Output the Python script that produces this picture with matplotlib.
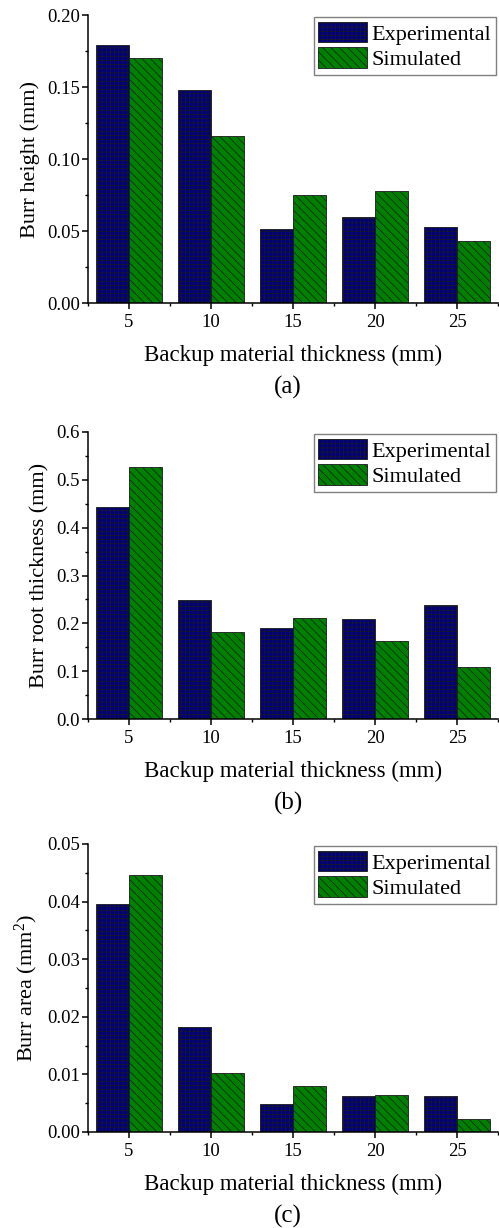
import numpy as np
import matplotlib
matplotlib.use('Agg')
import matplotlib.pyplot as plt
from matplotlib.ticker import MultipleLocator, FormatStrFormatter

# 字体：Times 风格
plt.rcParams['font.family'] = ['Liberation Serif', 'DejaVu Serif']
plt.rcParams['mathtext.fontset'] = 'custom'
plt.rcParams['mathtext.rm'] = 'Liberation Serif'
plt.rcParams['mathtext.it'] = 'Liberation Serif:italic'
plt.rcParams['hatch.linewidth'] = 0.5

# 背衬材料厚度 (mm)
thickness = [5, 10, 15, 20, 25]

# (a) 毛刺高度 (mm)
height_exp = [0.179, 0.148, 0.0515, 0.060, 0.0528]
height_sim = [0.170, 0.116, 0.075, 0.0778, 0.043]

# (b) 毛刺根部厚度 (mm)
root_exp = [0.444, 0.249, 0.191, 0.210, 0.238]
root_sim = [0.526, 0.181, 0.212, 0.164, 0.108]

# (c) 毛刺面积 (mm^2)
area_exp = [0.0395, 0.0183, 0.0049, 0.0063, 0.0063]
area_sim = [0.0446, 0.0103, 0.0079, 0.0064, 0.0023]

W, H = 499, 1228
fig = plt.figure(figsize=(W / 100, H / 100), dpi=100)


def px_axes(left, top, right, bottom):
    """按像素位置添加坐标轴"""
    return fig.add_axes([left / W, 1 - bottom / H, (right - left) / W, (bottom - top) / H])


def draw_panel(ax, exp, sim, ylabel, ymax, ystep, fmt):
    x = np.array(thickness, dtype=float)
    ax.bar(x - 1, exp, width=2, color='#000080', edgecolor='#1a1a1a',
           linewidth=0.6, hatch='++++', label='Experimental')
    ax.bar(x + 1, sim, width=2, color='#008000', edgecolor='#1a1a1a',
           linewidth=0.6, hatch='\\\\\\\\', label='Simulated')
    ax.set_xlim(2.5, 27.5)
    ax.set_ylim(0, ymax)
    ax.set_xticks(thickness)
    ax.xaxis.set_minor_locator(MultipleLocator(2.5))
    ax.yaxis.set_major_locator(MultipleLocator(ystep))
    ax.yaxis.set_minor_locator(MultipleLocator(ystep / 2))
    ax.yaxis.set_major_formatter(FormatStrFormatter(fmt))
    for s in ['top', 'right']:
        ax.spines[s].set_visible(False)
    for s in ['left', 'bottom']:
        ax.spines[s].set_linewidth(1.1)
    ax.tick_params(which='major', direction='out', length=4, width=1.1, labelsize=13.5)
    ax.tick_params(which='minor', direction='out', length=2.5, width=1.0)
    ax.tick_params(axis='y', which='major', pad=2)
    ax.tick_params(axis='x', which='major', pad=4)
    ax.set_ylabel(ylabel, fontsize=16, labelpad=5)
    leg = ax.legend(loc='upper right', fontsize=16, frameon=True, fancybox=False,
                    edgecolor='#808080', framealpha=1, borderaxespad=0.1,
                    handlelength=2.2, handleheight=1.05, labelspacing=0.12,
                    handletextpad=0.2, borderpad=0.2)
    leg.get_frame().set_linewidth(1.0)


panels = [
    (15, 303, height_exp, height_sim, 'Burr height (mm)', 0.20, 0.05, '%.2f', '(a)'),
    (432, 719, root_exp, root_sim, 'Burr root thickness (mm)', 0.6, 0.1, '%.1f', '(b)'),
    (844, 1132, area_exp, area_sim, 'Burr area (mm$^2$)', 0.05, 0.01, '%.2f', '(c)'),
]

for top, bottom, exp, sim, ylabel, ymax, ystep, fmt, tag in panels:
    ax = px_axes(88, top, 498, bottom)
    draw_panel(ax, exp, sim, ylabel, ymax, ystep, fmt)
    cx = (88 + 498) / 2 / W
    fig.text(cx, 1 - (bottom + 52) / H, 'Backup material thickness (mm)',
             fontsize=16.5, ha='center', va='center')
    fig.text(cx - 0.01, 1 - (bottom + 84) / H, tag, fontsize=18, ha='center', va='center')

fig.savefig('out.png', dpi=100)
